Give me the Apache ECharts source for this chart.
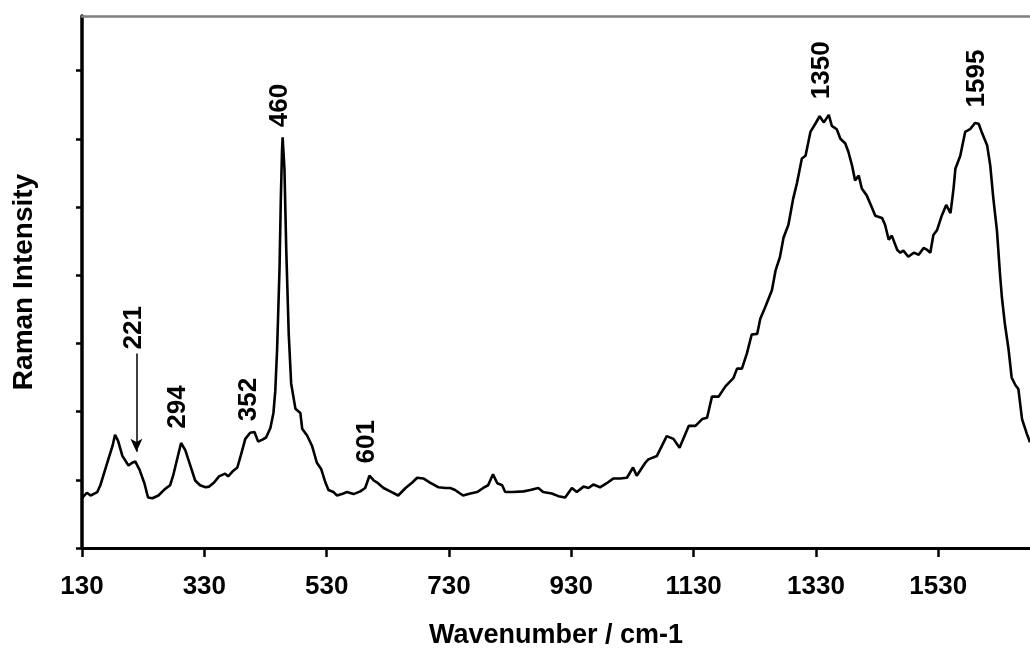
<!DOCTYPE html>
<html>
<head>
<meta charset="utf-8">
<script src="https://cdn.jsdelivr.net/npm/echarts@6/dist/echarts.min.js"></script>
<style>
html,body{margin:0;padding:0;background:#fff;}
#chart{width:1030px;height:654px;}
</style>
</head>
<body>
<div id="chart"></div>
<script>
// Wavenumber (cm-1) and intensity (arbitrary units, 1 unit = one y tick)
var wavenumber = [130,138,144,155,160,170,180,184,189,196,206,212,217,224,232,238,245,255,265,274,279,286,292,299,307,315,323,332,338,346,354,364,369,376,384,390,397,405,412,418,425,431,438,443,446,449,453,455,457,458,461,464,468,472,479,487,490,498,506,514,521,528,533,541,547,555,563,574,585,593,600,607,614,623,634,647,659,670,678,688,699,713,724,732,740,753,765,776,786,794,802,809,817,822,835,852,863,876,884,898,909,920,931,939,950,958,966,977,988,999,1010,1021,1031,1037,1051,1056,1070,1086,1097,1107,1122,1133,1144,1152,1160,1171,1182,1195,1201,1209,1217,1225,1234,1239,1247,1258,1264,1271,1277,1285,1293,1299,1307,1313,1321,1329,1336,1343,1351,1356,1364,1370,1378,1383,1389,1394,1400,1405,1413,1422,1427,1438,1443,1449,1454,1463,1468,1473,1481,1490,1498,1506,1512,1517,1522,1528,1536,1543,1550,1555,1558,1566,1574,1582,1590,1596,1601,1610,1615,1620,1626,1631,1634,1639,1645,1650,1656,1661,1667,1675,1680];
var intensity = [0.73,0.81,0.77,0.82,0.92,1.21,1.50,1.66,1.57,1.35,1.21,1.25,1.27,1.15,0.95,0.74,0.73,0.77,0.86,0.92,1.06,1.32,1.54,1.43,1.21,0.99,0.92,0.89,0.90,0.96,1.05,1.09,1.05,1.12,1.18,1.37,1.60,1.69,1.70,1.56,1.59,1.62,1.76,1.98,2.30,2.91,4.11,5.08,5.81,6.02,5.56,4.36,3.14,2.41,2.04,1.98,1.75,1.65,1.50,1.25,1.16,0.96,0.85,0.82,0.77,0.79,0.82,0.79,0.83,0.88,1.06,0.99,0.95,0.88,0.83,0.77,0.88,0.96,1.03,1.02,0.96,0.89,0.88,0.88,0.85,0.77,0.80,0.82,0.88,0.92,1.08,0.95,0.92,0.82,0.82,0.83,0.85,0.88,0.82,0.80,0.76,0.74,0.88,0.82,0.90,0.88,0.93,0.89,0.95,1.02,1.02,1.03,1.18,1.06,1.25,1.30,1.35,1.64,1.60,1.47,1.79,1.79,1.89,1.91,2.22,2.22,2.37,2.49,2.63,2.63,2.85,3.13,3.14,3.36,3.53,3.78,4.07,4.26,4.55,4.74,5.13,5.35,5.71,5.75,6.10,6.22,6.33,6.24,6.35,6.19,6.14,6.00,5.93,5.81,5.61,5.39,5.46,5.27,5.17,4.98,4.87,4.84,4.74,4.52,4.58,4.37,4.33,4.36,4.27,4.33,4.30,4.40,4.37,4.33,4.59,4.66,4.88,5.03,4.91,5.27,5.56,5.75,6.10,6.14,6.23,6.22,6.10,5.90,5.61,5.13,4.65,4.01,3.68,3.28,2.91,2.50,2.39,2.33,1.89,1.67,1.55];

// Peak annotations: text, anchor wavenumber, anchor intensity (bottom of rotated label)
var peakText = ['221','294','352','460','601','1350','1595'];
var peakX    = [215, 286, 403, 454, 596, 1340, 1593];
var peakY    = [2.91, 1.75, 1.86, 6.17, 1.24, 6.58, 6.46];

// Arrow pointing to the 221 shoulder
var arrowX = 219;
var arrowFrom = 2.85;
var arrowTo = 1.41;

var xTicks = [130,330,530,730,930,1130,1330,1530];
var yTicks = [0,1,2,3,4,5,6,7];

var FONT = '"Liberation Sans", Arial, sans-serif';

var lineData = wavenumber.map(function(w, i){ return [w, intensity[i]]; });
var labelData = peakText.map(function(t, i){ return {name: t, value: [peakX[i], peakY[i]]}; });

var chart = echarts.init(document.getElementById('chart'), null, {renderer:'canvas'});
chart.setOption({
  animation: false,
  backgroundColor: '#fff',
  grid: {left: 82, right: 0, top: 16, bottom: 101, containLabel: false},
  xAxis: [{
    type: 'value', min: 130, max: 1680, interval: 200,
    name: 'Wavenumber / cm-1', nameLocation: 'middle', nameGap: 74,
    nameTextStyle: {fontFamily: FONT, fontWeight: 'bold', fontSize: 27, color: '#000'},
    axisLine: {show: true, onZero: false, lineStyle: {color: '#000', width: 3}},
    axisTick: {show: true, inside: false, length: 9, customValues: xTicks, lineStyle: {color: '#000', width: 2.5}},
    axisLabel: {show: true, margin: 26, customValues: xTicks, formatter: function(v){ return String(v); },
      fontFamily: FONT, fontWeight: 'bold', fontSize: 26, color: '#000'},
    splitLine: {show: false}
  }, {
    type: 'value', position: 'top', min: 130, max: 1680,
    axisLine: {show: true, onZero: false, lineStyle: {color: '#808080', width: 2.5}},
    axisTick: {show: false}, axisLabel: {show: false}, splitLine: {show: false}
  }],
  yAxis: {
    type: 'value', min: 0, max: 7.8,
    name: 'Raman Intensity', nameLocation: 'middle', nameGap: 44, nameRotate: 90,
    nameTextStyle: {fontFamily: FONT, fontWeight: 'bold', fontSize: 28, color: '#000'},
    axisLine: {show: true, onZero: false, lineStyle: {color: '#000', width: 3.5}},
    axisTick: {show: true, inside: false, length: 6, customValues: yTicks, lineStyle: {color: '#000', width: 2.5}},
    axisLabel: {show: false},
    splitLine: {show: false}
  },
  series: [{
    type: 'line', data: lineData, showSymbol: false, symbol: 'none',
    lineStyle: {color: '#000', width: 2.6}, clip: true, z: 3,
    markLine: {
      silent: true, symbol: ['none', 'arrow'], symbolSize: [9, 13],
      label: {show: false},
      lineStyle: {color: '#000', width: 1.5, type: 'solid'},
      data: [[{coord: [arrowX, arrowFrom]}, {coord: [arrowX, arrowTo]}]]
    }
  }, {
    type: 'scatter', data: labelData, symbolSize: 0, silent: true, z: 4,
    itemStyle: {opacity: 1, color: '#000'},
    label: {
      show: true, formatter: '{b}', rotate: 90, position: [0, 0],
      align: 'left', verticalAlign: 'middle', opacity: 1,
      fontFamily: FONT, fontWeight: 'bold', fontSize: 26, color: '#000'
    }
  }]
});
</script>
</body>
</html>
